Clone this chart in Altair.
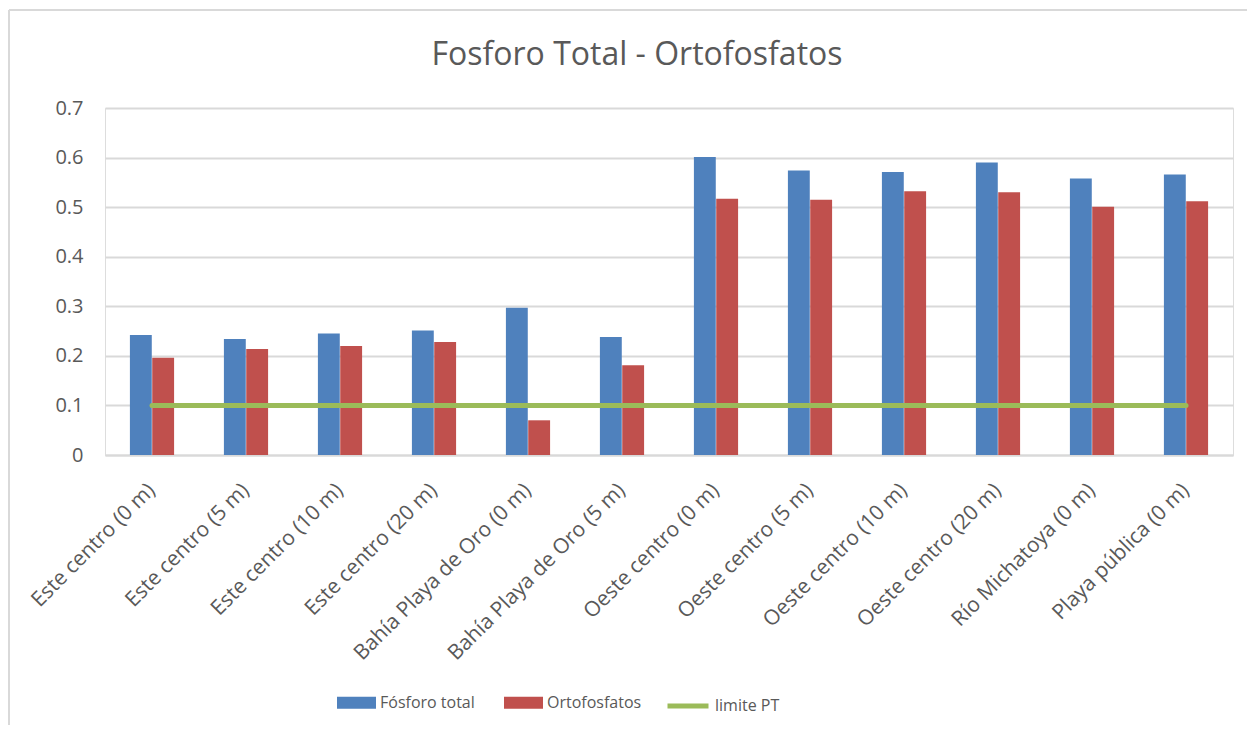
import altair as alt
import pandas as pd

title_text = "Fosforo Total - Ortofosfatos"
sitios = [
    "Este centro (0 m)", "Este centro (5 m)", "Este centro (10 m)", "Este centro (20 m)",
    "Bahía Playa de Oro (0 m)", "Bahía Playa de Oro (5 m)", "Oeste centro (0 m)",
    "Oeste centro (5 m)", "Oeste centro (10 m)", "Oeste centro (20 m)",
    "Río Michatoya (0 m)", "Playa pública (0 m)",
]
fosforo_total = [0.242, 0.234, 0.245, 0.251, 0.297, 0.238, 0.601, 0.574, 0.571, 0.590, 0.558, 0.566]
ortofosfatos = [0.196, 0.214, 0.220, 0.228, 0.070, 0.181, 0.517, 0.515, 0.532, 0.530, 0.501, 0.512]
limite_pt = [0.1] * 12
series = ["Fósforo total", "Ortofosfatos"]
line_series = ["limite PT"]
y_ticks = [0, 0.1, 0.2, 0.3, 0.4, 0.5, 0.6, 0.7]

bars = pd.DataFrame({
    "sitio": sitios * 2,
    "serie": [series[0]] * 12 + [series[1]] * 12,
    "valor": fosforo_total + ortofosfatos,
})
line_df = pd.DataFrame({"sitio": sitios, "serie": line_series * 12, "valor": limite_pt})
one = pd.DataFrame({"a": [0]})

FONT = "Open Sans"
GREY = "#595959"

x_enc = alt.X(
    "sitio:N", sort=sitios, title=None,
    scale=alt.Scale(paddingInner=0.53, paddingOuter=0.265),
    axis=alt.Axis(labelAngle=-45, labelFont=FONT, labelFontSize=21, labelColor=GREY,
                  labelPadding=24, labelOffset=-8, ticks=False, domainColor="#d9d9d9",
                  domainWidth=2, labelLimit=400, grid=False),
)
y_enc = alt.Y(
    "valor:Q", title=None, scale=alt.Scale(domain=[0, 0.7], nice=False),
    axis=alt.Axis(values=y_ticks, labelFont=FONT, labelFontSize=20, labelColor=GREY,
                  labelPadding=22, ticks=False, domain=False, gridColor="#d9d9d9",
                  gridWidth=2, format="~g"),
)

bar_layer = alt.Chart(bars).mark_bar().encode(
    x=x_enc,
    xOffset=alt.XOffset("serie:N", sort=series, scale=alt.Scale(paddingInner=0.02)),
    y=y_enc,
    color=alt.Color("serie:N", sort=series,
                    scale=alt.Scale(domain=series, range=["#4F81BD", "#C0504D"]),
                    legend=alt.Legend(title=None, orient="none", direction="horizontal",
                                      legendX=232, legendY=575,
                                      symbolType="M-1,-0.31H1V0.31H-1Z", symbolSize=1521,
                                      symbolStrokeWidth=0, labelOffset=4, columnPadding=29,
                                      labelFont=FONT, labelFontSize=16, labelColor=GREY,
                                      padding=0)),
)

line_layer = alt.Chart(line_df).mark_line(strokeWidth=5, strokeCap="round").encode(
    x=alt.X("sitio:N", sort=sitios),
    y=alt.Y("valor:Q"),
    stroke=alt.Stroke("serie:N",
                      scale=alt.Scale(domain=line_series, range=["#9BBB59"]),
                      legend=alt.Legend(title=None, orient="none", direction="horizontal",
                                        legendX=560, legendY=575, symbolType="stroke",
                                        symbolSize=1681, symbolStrokeWidth=5, labelOffset=4,
                                        labelFont=FONT, labelFontSize=16, labelColor=GREY,
                                        padding=0)),
)

title_layer = alt.Chart(one).mark_text(
    text=title_text, font=FONT, fontSize=32, color=GREY, baseline="alphabetic", align="center"
).encode(x=alt.value(532), y=alt.value(-43))

border_top = alt.Chart(one).mark_rule(color="#d9d9d9", strokeWidth=2).encode(
    x=alt.value(-96), x2=alt.value(1160), y=alt.value(-98))
border_left = alt.Chart(one).mark_rule(color="#d9d9d9", strokeWidth=2).encode(
    x=alt.value(-96), y=alt.value(-98), y2=alt.value(640))

chart = alt.layer(border_top, border_left, bar_layer, line_layer, title_layer).properties(
    width=1128, height=347,
    padding={"left": 97, "top": 100, "right": 14, "bottom": 270},
    autosize=alt.AutoSizeParams(type="none"),
).configure_view(stroke=None).configure(background="white")

chart.save("out.html", embed_options={"renderer": "svg", "actions": False})
